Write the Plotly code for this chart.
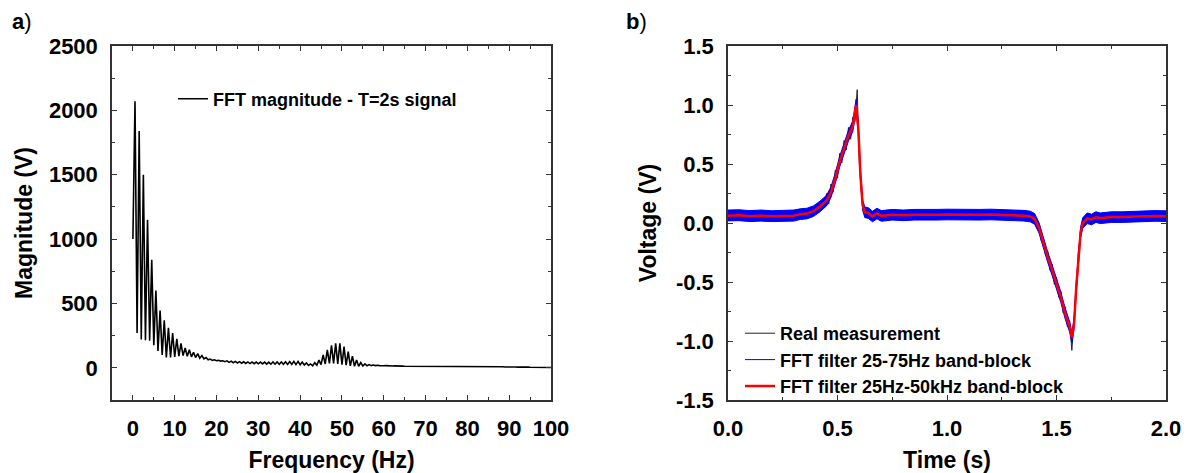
import numpy as np
import plotly.graph_objects as go

# ---------------- Panel a) FFT magnitude ----------------
freq_hz = np.arange(0, 100.5, 0.5)
fft_mag = [
    1000, 2070, 270, 1840, 220, 1500, 215, 1150, 210, 840, 175, 600, 130, 445, 100, 370, 80, 310, 80, 270, 85,
    225, 90, 190, 95, 155, 90, 140, 85, 120, 80, 110, 75, 95, 70, 80, 62, 68, 58, 62, 55,
    58, 52, 55, 48, 54, 42, 52, 40, 50, 38, 48, 36, 47, 34, 46, 33, 45, 32, 45, 31,
    44, 30, 44, 29, 44, 28, 45, 28, 45, 27, 46, 27, 47, 26, 48, 26, 50, 25, 50, 24,
    45, 22, 38, 18, 30, 15, 40, 20, 60, 25, 100, 30, 140, 35, 175, 35, 190, 30, 190, 25,
    165, 20, 125, 15, 90, 12, 60, 12, 40, 14, 30, 16, 25, 17, 22, 17, 20, 17, 19, 16,
    17, 15, 16, 14, 15, 13, 14, 12, 13, 12, 12, 11, 12, 10, 11, 10, 10, 9, 10, 9,
    10, 9, 9, 8, 9, 8, 9, 8, 9, 8, 8, 7, 8, 7, 8, 7, 8, 7, 8, 7,
    8, 7, 8, 7, 8, 7, 8, 7, 8, 8, 9, 8, 10, 8, 9, 7, 8, 6, 7, 6,
    7, 5, 6, 5, 6, 4, 5, 4, 5, 4, 4, 3, 4, 3, 3, 2, 3, 2, 2, 2,
]
freq_ticks = [0, 10, 20, 30, 40, 50, 60, 70, 80, 90, 100]
mag_ticks = [0, 500, 1000, 1500, 2000, 2500]

# ---------------- Panel b) time signals ----------------
t_meas = [0.00, 0.05, 0.10, 0.15, 0.20, 0.25, 0.30,
          0.35, 0.36, 0.37, 0.38, 0.39, 0.40, 0.41, 0.42, 0.43, 0.44, 0.45, 0.46, 0.47, 0.48,
          0.49, 0.50, 0.51, 0.52, 0.53, 0.54, 0.55, 0.56, 0.57, 0.58, 0.59, 0.60, 0.61, 0.62,
          0.65, 0.70, 0.75, 0.80, 0.85, 0.90, 0.95, 1.00, 1.05, 1.10, 1.15, 1.20, 1.25, 1.30, 1.35,
          1.38, 1.39, 1.40, 1.41, 1.42, 1.43, 1.44, 1.45, 1.46, 1.47, 1.48, 1.49, 1.50, 1.51,
          1.52, 1.53, 1.54, 1.55, 1.56, 1.57, 1.58, 1.59, 1.60, 1.61, 1.62, 1.63, 1.64,
          1.70, 1.75, 1.80, 1.85, 1.90, 1.95, 2.00]
v_meas = [0.06, 0.07, 0.05, 0.07, 0.05, 0.07, 0.06,
          0.10, 0.05, 0.11, 0.07, 0.13, 0.08, 0.16, 0.11, 0.19, 0.14, 0.25, 0.16, 0.33, 0.26,
          0.45, 0.38, 0.59, 0.51, 0.70, 0.62, 0.81, 0.71, 0.90, 0.86, 1.13, 0.50, 0.24, 0.10,
          0.06, 0.09, 0.05, 0.08, 0.06, 0.09, 0.06, 0.08, 0.06, 0.09, 0.06, 0.08, 0.06, 0.08, 0.06,
          0.09, 0.02, 0.07, -0.03, -0.01, -0.15, -0.12, -0.28, -0.24, -0.40, -0.35, -0.52, -0.46, -0.63,
          -0.58, -0.76, -0.71, -0.88, -0.83, -1.08, -0.82, -0.58, -0.24, -0.10, 0.03, 0.01, 0.07,
          0.06, 0.04, 0.07, 0.05, 0.07, 0.05, 0.07]

t_filt = [0.00, 0.05, 0.10, 0.15, 0.20, 0.25, 0.30,
          0.33, 0.36, 0.39, 0.42, 0.45, 0.47, 0.49, 0.51, 0.53, 0.55, 0.57, 0.585, 0.595, 0.605, 0.615, 0.625,
          0.64, 0.66, 0.68, 0.70, 0.75, 0.80, 0.85, 0.90, 0.95, 1.00, 1.05, 1.10, 1.15, 1.20, 1.25, 1.30, 1.35,
          1.38, 1.40, 1.42, 1.44, 1.46, 1.48, 1.50, 1.52, 1.54, 1.56, 1.57, 1.58, 1.59, 1.60, 1.61, 1.62,
          1.64, 1.66, 1.68, 1.70, 1.75, 1.80, 1.85, 1.90, 1.95, 2.00]
v_red = [0.062, 0.065, 0.058, 0.062, 0.058, 0.060, 0.062,
         0.075, 0.080, 0.100, 0.140, 0.190, 0.260, 0.380, 0.520, 0.630, 0.740, 0.820, 1.000, 0.800, 0.400, 0.150, 0.090,
         0.085, 0.055, 0.080, 0.060, 0.070, 0.065, 0.070, 0.068, 0.070, 0.072, 0.070, 0.072, 0.070, 0.072, 0.070, 0.068, 0.062,
         0.055, 0.035, -0.040, -0.170, -0.290, -0.400, -0.510, -0.630, -0.770, -0.880, -0.970, -0.860, -0.550, -0.280, -0.080, 0.000,
         0.040, 0.030, 0.050, 0.040, 0.050, 0.050, 0.055, 0.060, 0.060, 0.058]
v_blue_hi = [0.110, 0.112, 0.105, 0.110, 0.104, 0.108, 0.110,
             0.120, 0.125, 0.145, 0.185, 0.235, 0.305, 0.425, 0.565, 0.675, 0.785, 0.865, 1.050, 0.840, 0.440, 0.195, 0.135,
             0.130, 0.100, 0.125, 0.105, 0.115, 0.110, 0.115, 0.113, 0.115, 0.117, 0.115, 0.117, 0.115, 0.117, 0.115, 0.113, 0.107,
             0.100, 0.080, 0.005, -0.125, -0.245, -0.355, -0.465, -0.585, -0.725, -0.835, -0.925, -0.815, -0.505, -0.235, -0.035, 0.045,
             0.085, 0.075, 0.095, 0.085, 0.095, 0.095, 0.100, 0.105, 0.105, 0.103]
v_blue_lo = [0.018, 0.020, 0.012, 0.016, 0.012, 0.014, 0.016,
             0.030, 0.035, 0.055, 0.095, 0.145, 0.215, 0.335, 0.475, 0.585, 0.695, 0.775, 0.950, 0.760, 0.360, 0.105, 0.045,
             0.040, 0.010, 0.035, 0.015, 0.025, 0.020, 0.025, 0.023, 0.025, 0.027, 0.025, 0.027, 0.025, 0.027, 0.025, 0.023, 0.017,
             0.010, -0.010, -0.085, -0.215, -0.335, -0.445, -0.555, -0.675, -0.815, -0.925, -1.015, -0.905, -0.595, -0.325, -0.125, -0.045,
             -0.005, -0.015, 0.005, -0.005, 0.005, 0.005, 0.010, 0.015, 0.015, 0.013]
time_ticks = [0.0, 0.5, 1.0, 1.5, 2.0]
time_ticktext = ["0.0", "0.5", "1.0", "1.5", "2.0"]
volt_ticks = [-1.5, -1.0, -0.5, 0.0, 0.5, 1.0, 1.5]
volt_ticktext = ["-1.5", "-1.0", "-0.5", "0.0", "0.5", "1.0", "1.5"]

FONT = "Liberation Sans, Arial, sans-serif"
W, H = 1191, 473

fig = go.Figure()

fig.add_trace(go.Scatter(x=freq_hz, y=fft_mag, mode="lines", name="FFT magnitude - T=2s signal",
                         line=dict(color="black", width=1.6), xaxis="x", yaxis="y", legend="legend"))

fig.add_trace(go.Scatter(x=t_meas, y=v_meas, mode="lines", name="Real measurement",
                         line=dict(color="#222222", width=1), xaxis="x2", yaxis="y2", legend="legend2"))
fig.add_trace(go.Scatter(x=t_filt, y=v_blue_lo, mode="lines", showlegend=False,
                         line=dict(color="#0000ff", width=1), xaxis="x2", yaxis="y2"))
fig.add_trace(go.Scatter(x=t_filt, y=v_blue_hi, mode="lines", showlegend=False, fill="tonexty",
                         fillcolor="#0000ff", line=dict(color="#0000ff", width=1), xaxis="x2", yaxis="y2"))
fig.add_trace(go.Scatter(x=[None], y=[None], mode="lines", name="FFT filter 25-75Hz band-block",
                         line=dict(color="#0000ff", width=1), xaxis="x2", yaxis="y2", legend="legend2"))
fig.add_trace(go.Scatter(x=t_filt, y=v_red, mode="lines", name="FFT filter 25Hz-50kHz band-block",
                         line=dict(color="#ff0000", width=2.5), xaxis="x2", yaxis="y2", legend="legend2"))

tickfont = dict(family=FONT, size=22, color="black", weight="bold")
titlefont = dict(family=FONT, size=23, color="black", weight="bold")
legfont = dict(family=FONT, size=18, color="black", weight="bold")
AX = "#333333"


def axis_common(standoff):
    return dict(showline=True, linecolor=AX, linewidth=1.5, mirror="ticks",
                ticks="inside", ticklen=5, tickwidth=1.2, tickcolor=AX,
                showgrid=False, zeroline=False, tickfont=tickfont, ticklabelstandoff=standoff,
                automargin=False)


def minor(d):
    return dict(dtick=d, ticks="inside", ticklen=3, tickwidth=1.2, tickcolor=AX)


fig.update_layout(
    width=W, height=H,
    margin=dict(l=0, r=0, t=0, b=0, autoexpand=False),
    paper_bgcolor="white", plot_bgcolor="white",
    font=dict(family=FONT, color="black"),
    xaxis=dict(domain=[112 / W, 551 / W], anchor="y", range=[-5, 100], tickmode="array",
               tickvals=freq_ticks, minor=minor(5),
               title=dict(text="Frequency (Hz)", font=titlefont, standoff=15), **axis_common(8)),
    yaxis=dict(domain=[1 - 400 / H, 1 - 46 / H], anchor="x", range=[-250, 2500], tickmode="array",
               tickvals=mag_ticks, minor=minor(250),
               title=dict(text="Magnitude (V)", font=titlefont, standoff=10), **axis_common(8)),
    xaxis2=dict(domain=[728 / W, 1166 / W], anchor="y2", range=[0, 2], tickmode="array",
                tickvals=time_ticks, ticktext=time_ticktext, minor=minor(0.25),
                title=dict(text="Time (s)", font=titlefont, standoff=15), **axis_common(8)),
    yaxis2=dict(domain=[1 - 400 / H, 1 - 46 / H], anchor="x2", range=[-1.5, 1.5], tickmode="array",
                tickvals=volt_ticks, ticktext=volt_ticktext, minor=minor(0.25),
                title=dict(text="Voltage (V)", font=titlefont, standoff=13), **axis_common(8)),
    legend=dict(x=173 / W, y=1 - 99 / H, xanchor="left", yanchor="middle", bgcolor="rgba(0,0,0,0)",
                font=legfont, borderwidth=0),
    legend2=dict(x=740 / W, y=1 - 360 / H, xanchor="left", yanchor="middle", bgcolor="rgba(0,0,0,0)",
                 font=legfont, borderwidth=0, tracegroupgap=0),
    showlegend=True,
    annotations=[
        dict(text="<b>a</b>)", x=10 / W, y=1 - 21 / H, xref="paper", yref="paper", xanchor="left",
             yanchor="middle", showarrow=False, font=dict(family=FONT, size=22, color="black")),
        dict(text="<b>b</b>)", x=624 / W, y=1 - 21 / H, xref="paper", yref="paper", xanchor="left",
             yanchor="middle", showarrow=False, font=dict(family=FONT, size=22, color="black")),
    ],
)

fig.write_html("out.html", config={"displayModeBar": False},
               post_script="document.body.style.margin='0';document.body.style.overflow='hidden';")
